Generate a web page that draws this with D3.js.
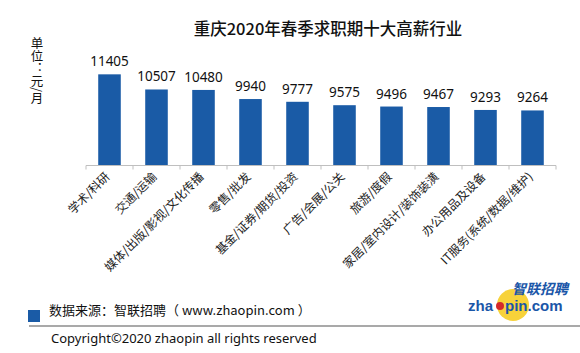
<!DOCTYPE html>
<html>
<head>
<meta charset="utf-8">
<script src="https://cdn.jsdelivr.net/npm/d3@7.9.0/dist/d3.min.js"></script>
<style>
  body { margin: 0; background: #fff; }
  svg { display: block; font-family: "Noto Sans", "Noto Sans CJK SC", sans-serif; }
</style>
</head>
<body>
<div id="chart"></div>
<script>
// chart data
const industries = ['学术/科研', '交通/运输', '媒体/出版/影视/文化传播', '零售/批发', '基金/证券/期货/投资',
    '广告/会展/公关', '旅游/度假', '家居/室内设计/装饰装潢', '办公用品及设备', 'IT服务(系统/数据/维护)'];
const salaries = [11405, 10507, 10480, 9940, 9777, 9575, 9496, 9467, 9293, 9264];
const unitLabel = '单位：元/月';

const width = 580, height = 353;
const svg = d3.select('#chart').append('svg')
    .attr('width', width)
    .attr('height', height);

// scales
const x = d3.scaleBand()
    .domain(industries)
    .range([86, 556])
    .paddingInner(0.52)
    .paddingOuter(0.26);

const y = d3.scaleLinear()
    .domain([6000, 12000])
    .range([165.5, 64.3]);

// title
svg.append('text')
    .attr('x', 328)
    .attr('y', 35)
    .attr('text-anchor', 'middle')
    .style('font-family', '"Noto Sans CJK SC", sans-serif')
    .style('font-size', '16.5px')
    .style('font-weight', 500)
    .style('fill', '#111')
    .text('重庆2020年春季求职期十大高薪行业');

// vertical unit label
svg.append('text')
    .attr('x', 37)
    .attr('y', 37)
    .style('writing-mode', 'vertical-rl')
    .style('font-family', '"Noto Sans CJK SC", sans-serif')
    .style('font-size', '12.5px')
    .style('fill', '#111')
    .text(unitLabel);

// bars
svg.selectAll('rect.bar')
    .data(salaries)
    .enter()
    .append('rect')
    .attr('class', 'bar')
    .attr('x', (d, i) => x(industries[i]))
    .attr('y', d => y(d))
    .attr('width', x.bandwidth())
    .attr('height', d => y(6000) - y(d))
    .attr('fill', '#1a5ba6');

// value labels
svg.selectAll('text.val')
    .data(salaries)
    .enter()
    .append('text')
    .attr('class', 'val')
    .attr('x', (d, i) => x(industries[i]) + x.bandwidth() / 2)
    .attr('y', d => y(d) - 8)
    .attr('text-anchor', 'middle')
    .style('font-size', '13.5px')
    .style('fill', '#111')
    .text(d => d);

// axis line with ticks at band edges
const x0 = x.range()[0], x1 = x.range()[1];
svg.append('line')
    .attr('x1', x0).attr('x2', x1)
    .attr('y1', y(6000)).attr('y2', y(6000))
    .attr('stroke', '#bfbfbf')
    .attr('stroke-width', 1);
d3.range(industries.length + 1).forEach(i => {
    const tx = x0 + i * (x1 - x0) / industries.length;
    svg.append('line')
        .attr('x1', tx).attr('x2', tx)
        .attr('y1', y(6000)).attr('y2', y(6000) + 4)
        .attr('stroke', '#bfbfbf');
});

// category labels, rotated
svg.selectAll('text.cat')
    .data(industries)
    .enter()
    .append('text')
    .attr('class', 'cat')
    .attr('transform', d => `translate(${x(d) + x.bandwidth() / 2 + 1},${y(6000) + 12}) rotate(-45)`)
    .attr('text-anchor', 'end')
    .style('font-family', '"Noto Sans CJK SC", sans-serif')
    .style('font-size', '12px')
    .style('fill', '#222')
    .text(d => d);

// footer
svg.append('rect')
    .attr('x', 28).attr('y', 310)
    .attr('width', 12).attr('height', 12)
    .attr('fill', '#1a5ba6');

svg.append('text')
    .attr('x', 49)
    .attr('y', 315)
    .style('font-family', '"Noto Sans CJK SC", sans-serif')
    .style('font-size', '13px')
    .style('fill', '#111')
    .text('数据来源：智联招聘（ www.zhaopin.com ）');

svg.append('line')
    .attr('x1', 29).attr('x2', 580)
    .attr('y1', 326).attr('y2', 326)
    .attr('stroke', '#555')
    .attr('stroke-width', 1.2);

svg.append('text')
    .attr('x', 51)
    .attr('y', 343)
    .style('font-size', '13px')
    .style('fill', '#111')
    .text('Copyright©2020 zhaopin all rights reserved');

// logo
const logo = svg.append('g');
logo.append('circle')
    .attr('cx', 513).attr('cy', 305).attr('r', 16)
    .attr('fill', '#f7d23a');
logo.append('text')
    .attr('x', 512).attr('y', 294)
    .style('font-family', '"Noto Sans CJK SC", sans-serif')
    .style('font-size', '14px')
    .style('font-weight', 'bold')
    .style('font-style', 'italic')
    .style('fill', '#1a56a8')
    .text('智联招聘');
logo.append('text')
    .attr('x', 468).attr('y', 311)
    .style('font-family', '"Liberation Sans", sans-serif')
    .style('font-size', '15px')
    .style('font-weight', 'bold')
    .style('fill', '#1a56a8')
    .text('zha');
logo.append('circle')
    .attr('cx', 500).attr('cy', 306).attr('r', 4)
    .attr('fill', '#d42a2a');
logo.append('text')
    .attr('x', 505).attr('y', 311)
    .style('font-family', '"Liberation Sans", sans-serif')
    .style('font-size', '15px')
    .style('font-weight', 'bold')
    .style('fill', '#1a56a8')
    .text('pin.com');
</script>
</body>
</html>
